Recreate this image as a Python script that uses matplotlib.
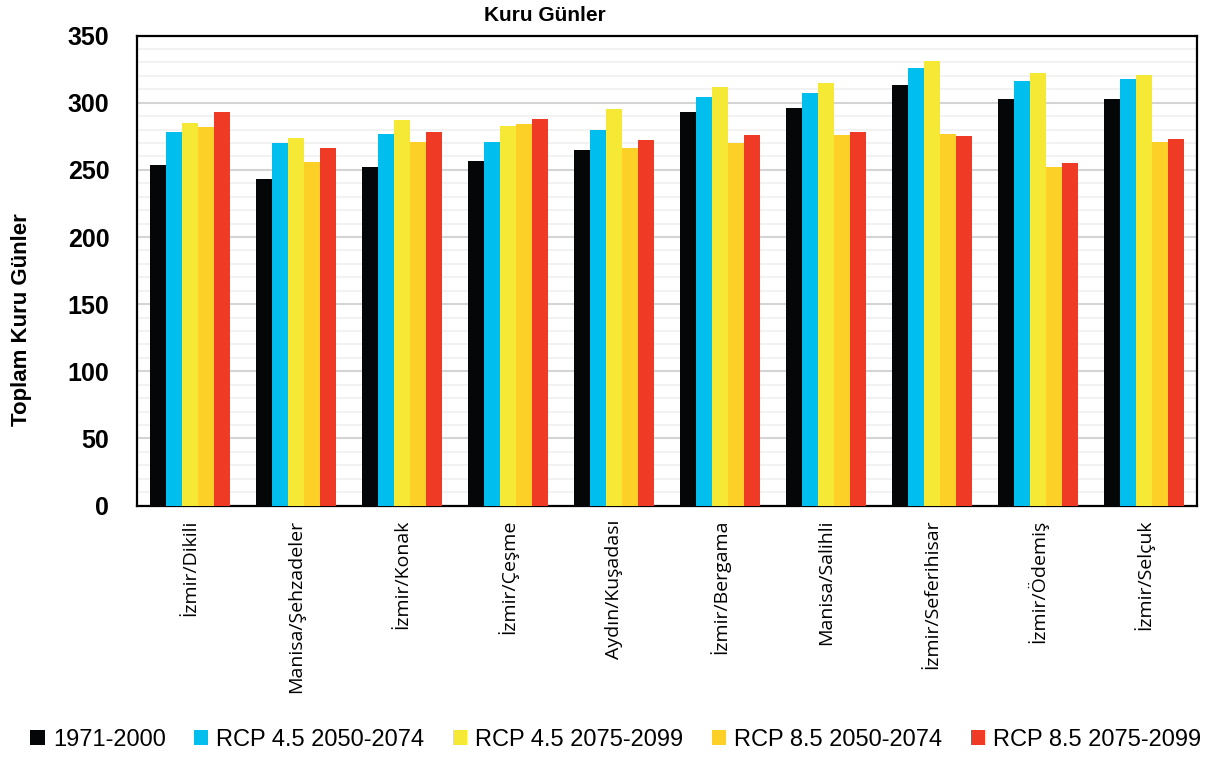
import matplotlib
matplotlib.use("Agg")
import matplotlib.pyplot as plt
import numpy as np

categories = ["İzmir/Dikili", "Manisa/Şehzadeler", "İzmir/Konak", "İzmir/Çeşme", "Aydın/Kuşadası",
              "İzmir/Bergama", "Manisa/Salihli", "İzmir/Seferihisar", "İzmir/Ödemiş", "İzmir/Selçuk"]
series_names = ["1971-2000", "RCP 4.5 2050-2074", "RCP 4.5 2075-2099", "RCP 8.5 2050-2074", "RCP 8.5 2075-2099"]
s1971 = [254, 243, 252, 257, 265, 293, 296, 313, 303, 303]
rcp45_50 = [278, 270, 277, 271, 280, 304, 307, 326, 316, 318]
rcp45_75 = [285, 274, 287, 283, 295, 312, 315, 331, 322, 321]
rcp85_50 = [282, 256, 271, 284, 266, 270, 276, 277, 252, 271]
rcp85_75 = [293, 266, 278, 288, 272, 276, 278, 275, 255, 273]
colors = ["#040608", "#00BEEE", "#F5E935", "#FDD027", "#EF3A25"]

plt.rcParams['font.family'] = ['Liberation Sans', 'DejaVu Sans']

fig = plt.figure(figsize=(12.17, 7.58), dpi=100)
ax = fig.add_axes([0.1126, 0.333, 0.871, 0.620])

data = [s1971, rcp45_50, rcp45_75, rcp85_50, rcp85_75]
x = np.arange(len(categories))
w = 0.151
for i, (vals, c, name) in enumerate(zip(data, colors, series_names)):
    ax.bar(x + (i - 2) * w, vals, width=w, color=c, label=name, zorder=3)

ax.set_xlim(-0.5, len(categories) - 0.5)
ax.set_ylim(0, 350)
ax.set_yticks(np.arange(0, 351, 50))
ax.set_yticks(np.arange(0, 351, 10), minor=True)
ax.grid(axis='y', which='major', color='#d4d4d4', linewidth=1.5, zorder=0)
ax.grid(axis='y', which='minor', color='#f0f0f0', linewidth=1.2, zorder=0)
ax.tick_params(axis='y', which='both', length=0, labelsize=18, pad=20)
for lab in ax.get_yticklabels():
    lab.set_fontweight('bold')
ax.set_xticks(x)
ax.set_xticklabels(categories, rotation=90, fontsize=14, family=['Open Sans', 'DejaVu Sans'])
ax.tick_params(axis='x', length=0, pad=10)
for sp in ax.spines.values():
    sp.set_color('black')
    sp.set_linewidth(1.6)

fig.text(0.018, 0.578, "Toplam Kuru Günler", rotation=90, ha='center', va='center',
         fontsize=16, fontweight='bold')
fig.text(0.448, 0.979, "Kuru Günler", ha='center', va='center', fontsize=15, fontweight='bold')

fig.legend(loc='center', bbox_to_anchor=(0.506, 0.024), ncol=5, frameon=False,
           handlelength=0.6, handleheight=0.6, handletextpad=0.35,
           columnspacing=1.2, prop={'size': 17})

fig.savefig("out.png", dpi=100)
